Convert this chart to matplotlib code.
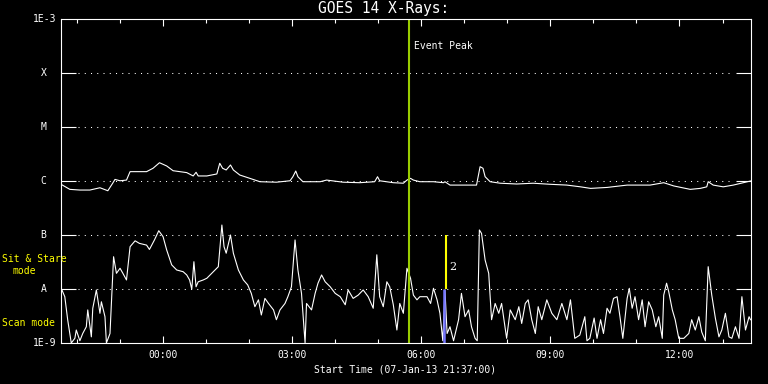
import matplotlib
matplotlib.use("Agg")
import matplotlib.pyplot as plt
import matplotlib.ticker as mticker

# minutes since start (07-Jan-13 21:37:00)
long_t = [0, 13, 27, 41, 55, 66, 73, 76, 83, 92, 97, 120, 129, 138, 148, 157, 176, 185,
          189, 192, 204, 218, 222, 226, 231, 237, 241, 250, 264, 278, 301, 320, 324, 328,
          331, 338, 362, 371, 394, 417, 438, 442, 445, 464, 478, 483, 488, 492, 501, 520,
          534, 536, 543, 566, 580, 585, 589, 592, 599, 613, 636, 659, 682, 706, 725, 739,
          762, 790, 822, 841, 855, 878, 892, 901, 903, 910, 924, 938, 952, 962]
long_f = [8.8e-7, 7.0e-7, 6.8e-7, 6.8e-7, 7.5e-7, 6.6e-7, 9.2e-7, 1.07e-6, 1.01e-6, 1.04e-6,
          1.49e-6, 1.49e-6, 1.72e-6, 2.18e-6, 1.90e-6, 1.55e-6, 1.43e-6, 1.24e-6, 1.45e-6,
          1.24e-6, 1.24e-6, 1.35e-6, 2.13e-6, 1.72e-6, 1.60e-6, 1.98e-6, 1.60e-6, 1.29e-6,
          1.12e-6, 9.7e-7, 9.5e-7, 1.01e-6, 1.20e-6, 1.53e-6, 1.20e-6, 9.7e-7, 9.7e-7, 1.04e-6,
          9.5e-7, 9.3e-7, 9.7e-7, 1.20e-6, 1.01e-6, 9.3e-7, 9.1e-7, 1.04e-6, 1.12e-6, 1.04e-6,
          9.7e-7, 9.7e-7, 9.3e-7, 9.7e-7, 8.4e-7, 8.4e-7, 8.4e-7, 1.84e-6, 1.72e-6, 1.20e-6,
          9.7e-7, 9.1e-7, 8.8e-7, 9.1e-7, 8.7e-7, 8.4e-7, 7.8e-7, 7.3e-7, 7.6e-7, 8.4e-7,
          8.4e-7, 9.3e-7, 8.1e-7, 7.0e-7, 7.3e-7, 7.8e-7, 9.7e-7, 8.4e-7, 7.8e-7, 8.4e-7,
          9.3e-7, 1.0e-6]

short_t = [1, 6, 10, 15, 20, 22, 27, 31, 36, 38, 43, 45, 50, 55, 57, 62, 64, 69, 71, 74,
           78, 83, 87, 92, 94, 97, 104, 110, 120, 124, 131, 137, 143, 148, 155, 162, 171,
           176, 180, 183, 186, 189, 192, 199, 204, 213, 220, 225, 228, 231, 237, 241, 248,
           255, 261, 266, 271, 276, 280, 285, 290, 297, 301, 306, 313, 317, 322, 327, 331,
           336, 341, 343, 350, 355, 359, 364, 369, 376, 383, 390, 397, 401, 408, 415, 422,
           429, 436, 441, 445, 450, 455, 459, 464, 469, 473, 478, 483, 488, 492, 497, 501,
           511, 516, 520, 525, 529, 533, 536, 539, 543, 548, 555, 559, 564, 569, 573, 578,
           581, 584, 587, 592, 597, 601, 606, 611, 615, 622, 627, 634, 639, 643, 648, 652,
           657, 662, 666, 671, 678, 685, 692, 699, 706, 711, 717, 724, 731, 734, 738, 744,
           748, 753, 757, 762, 766, 771, 776, 780, 784, 790, 793, 797, 801, 806, 811, 815,
           820, 825, 830, 834, 839, 841, 845, 848, 853, 857, 862, 869, 876, 880, 885, 890,
           894, 899, 903, 908, 913, 918, 922, 927, 932, 936, 941, 946, 950, 955, 960, 962]
short_f = [1.03e-8, 7.2e-9, 2.7e-9, 1.0e-9, 1.22e-9, 1.74e-9, 1.1e-9, 1.5e-9, 2.0e-9, 4.1e-9,
           1.3e-9, 4.4e-9, 9.6e-9, 3.55e-9, 5.8e-9, 3.07e-9, 1.0e-9, 1.5e-9, 5.4e-9, 3.96e-8,
           1.95e-8, 2.42e-8, 1.95e-8, 1.47e-8, 2.59e-8, 6.07e-8, 7.8e-8, 7.0e-8, 6.5e-8, 5.4e-8,
           8.1e-8, 1.2e-7, 9.3e-8, 5.3e-8, 2.8e-8, 2.25e-8, 2.09e-8, 1.82e-8, 1.47e-8, 9.9e-9,
           3.2e-8, 1.10e-8, 1.36e-8, 1.47e-8, 1.58e-8, 2.09e-8, 2.59e-8, 1.53e-7, 6.07e-8,
           4.6e-8, 1.0e-7, 4.6e-8, 2.25e-8, 1.47e-8, 1.19e-8, 8.3e-9, 4.7e-9, 6.3e-9, 3.3e-9,
           6.7e-9, 5.4e-9, 4.1e-9, 2.7e-9, 4.1e-9, 5.4e-9, 7.2e-9, 1.10e-8, 8.1e-8, 2.25e-8,
           8.3e-9, 1.0e-9, 5.4e-9, 4.1e-9, 8.3e-9, 1.28e-8, 1.82e-8, 1.36e-8, 1.10e-8, 8.3e-9,
           7.2e-9, 5.1e-9, 9.6e-9, 6.7e-9, 7.7e-9, 9.6e-9, 7.2e-9, 4.4e-9, 4.3e-8, 7.2e-9,
           4.7e-9, 1.36e-8, 1.10e-8, 5.1e-9, 1.74e-9, 5.4e-9, 3.55e-9, 2.42e-8, 1.58e-8, 7.7e-9,
           6.3e-9, 7.2e-9, 7.2e-9, 5.4e-9, 1.03e-8, 6.3e-9, 3.55e-9, 1.1e-9, 9.6e-9, 1.5e-9,
           2.0e-9, 1.1e-9, 2.7e-9, 8.3e-9, 3.07e-9, 4.1e-9, 2.0e-9, 1.22e-9, 1.1e-9, 1.24e-7,
           1.07e-7, 3.44e-8, 1.95e-8, 2.7e-9, 5.4e-9, 3.55e-9, 5.4e-9, 1.22e-9, 4.1e-9, 2.7e-9,
           4.7e-9, 2.3e-9, 5.4e-9, 6.3e-9, 2.7e-9, 1.5e-9, 4.7e-9, 2.7e-9, 6.3e-9, 3.55e-9,
           2.7e-9, 5.4e-9, 2.7e-9, 6.3e-9, 1.22e-9, 1.4e-9, 3.07e-9, 1.1e-9, 1.22e-9, 2.9e-9,
           1.22e-9, 2.7e-9, 1.5e-9, 4.4e-9, 3.55e-9, 6.7e-9, 7.2e-9, 3.07e-9, 1.22e-9, 6.7e-9,
           1.03e-8, 4.4e-9, 7.2e-9, 2.7e-9, 6.3e-9, 2.0e-9, 5.8e-9, 4.1e-9, 2.0e-9, 3.07e-9,
           1.22e-9, 7.7e-9, 1.28e-8, 8.9e-9, 4.1e-9, 2.7e-9, 1.22e-9, 1.22e-9, 1.5e-9, 2.7e-9,
           1.74e-9, 3.07e-9, 1.6e-9, 1.1e-9, 2.59e-8, 7.7e-9, 2.9e-9, 1.3e-9, 1.74e-9, 3.55e-9,
           1.3e-9, 1.22e-9, 2.0e-9, 1.22e-9, 7.2e-9, 1.74e-9, 3.07e-9, 2.7e-9]

t_end = 962
major_ticks = [143, 323, 503, 683, 863]
major_labels = ["00:00", "03:00", "06:00", "09:00", "12:00"]
minor_ticks = list(range(23, t_end, 60))

class_levels = [1e-8, 1e-7, 1e-6, 1e-5, 1e-4]
class_labels = ["A", "B", "C", "M", "X"]

event_peak_t = 486
sas_t, sas_lo, sas_hi = 537.5, 1e-8, 1e-7
scan_t, scan_lo, scan_hi = 535, 1e-9, 1e-8

font = "DejaVu Sans Mono"
fs = 7

fig = plt.figure(figsize=(7.68, 3.84), dpi=100, facecolor="black")
ax = fig.add_axes([60.5 / 768, 1 - 343 / 384, 690 / 768, 324 / 384])
ax.set_facecolor("black")

ax.plot(long_t, long_f, color="white", lw=0.8)
ax.plot(short_t, short_f, color="white", lw=0.8)

ax.set_yscale("log")
ax.set_ylim(1e-9, 1e-3)
ax.set_xlim(0, t_end)

for lvl in class_levels:
    ax.axhline(lvl, xmin=0.025, xmax=0.972, color="white", lw=0.75,
               linestyle=(0, (1, 5)))

ax.axvline(event_peak_t, color="#99cc00", lw=1.5)
ax.text(event_peak_t + 7, 3.2e-4, "Event Peak", color="white", fontsize=fs,
        family=font, va="center")
ax.vlines(sas_t, sas_lo, sas_hi, color="#ffff00", lw=1.5)
ax.vlines(scan_t, scan_lo, scan_hi, color="#7777ff", lw=1.8)
ax.text(sas_t + 4, 2.6e-8, "2", color="white", fontsize=8, family="DejaVu Serif",
        va="center")

for s in ax.spines.values():
    s.set_color("white")
    s.set_linewidth(0.8)

ax.xaxis.set_major_locator(mticker.FixedLocator(major_ticks))
ax.xaxis.set_minor_locator(mticker.FixedLocator(minor_ticks))
ax.set_xticklabels(major_labels, family=font, fontsize=fs)
ax.tick_params(axis="x", which="major", direction="in", length=5, width=0.8,
               top=True, colors="white", pad=5)
ax.tick_params(axis="x", which="minor", direction="in", length=2.6, width=0.8,
               top=True, colors="white")

ax.yaxis.set_major_locator(mticker.FixedLocator(class_levels))
ax.yaxis.set_minor_locator(mticker.NullLocator())
ax.yaxis.set_major_formatter(mticker.NullFormatter())
ax.tick_params(axis="y", which="major", direction="in", length=10.5, width=0.8,
               right=True, colors="white")

ytr = ax.get_yaxis_transform()
for lvl, lab in zip(class_levels, class_labels):
    ax.text(-0.0245, lvl, lab, transform=ytr, color="white", fontsize=fs,
            family=font, ha="center", va="center")
ax.text(-0.006, 1e-3, "1E-3", transform=ytr, color="white", fontsize=fs,
        family=font, ha="right", va="center")
ax.text(-0.006, 1e-9, "1E-9", transform=ytr, color="white", fontsize=fs,
        family=font, ha="right", va="center")

fig.text(0.5, 1 - 8 / 384, "GOES 14 X-Rays:", color="white", fontsize=10.5,
         family=font, ha="center", va="center")
fig.text(405.5 / 768, 1 - 369 / 384, "Start Time (07-Jan-13 21:37:00)", color="white",
         fontsize=fs, family=font, ha="center", va="center")

fig.text(34 / 768, 1 - 258.5 / 384, "Sit & Stare", color="#ffff00", fontsize=fs,
         family=font, ha="center", va="center")
fig.text(24.5 / 768, 1 - 271 / 384, "mode", color="#ffff00", fontsize=fs,
         family=font, ha="center", va="center")
fig.text(28.5 / 768, 1 - 323.5 / 384, "Scan mode", color="#ffff00", fontsize=fs,
         family=font, ha="center", va="center")

fig.savefig("out.png", dpi=100, facecolor="black")
